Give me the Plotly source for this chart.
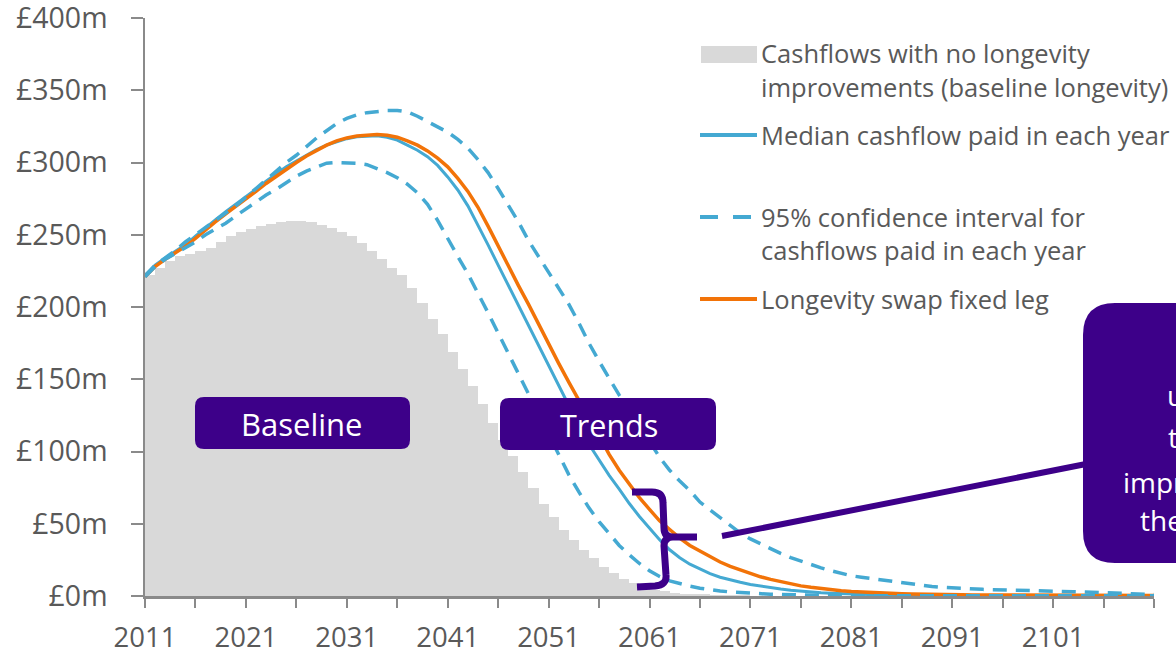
import plotly.graph_objects as go

# ---------------- data (values in £m) ----------------
bar_years = list(range(2011, 2071))
baseline = [222, 227, 232, 235, 237, 239, 241, 245, 249, 252,
            254, 256, 257.5, 258.5, 259.5, 259.5, 258.5, 257, 255, 252,
            249, 244, 239, 233, 227, 222, 213, 203, 192, 181,
            169, 157, 145, 133, 120, 108, 97, 86, 75, 64,
            55, 46, 39, 32, 26, 20, 16, 12, 9, 6.5,
            4.5, 3.2, 2.2, 1.5, 1.0, 0.7, 0.4, 0.25, 0.15, 0.1]

years = list(range(2011, 2112))
median = [222, 229, 234, 238.5, 243, 249, 255, 260.5, 266, 271,
          276, 281.5, 287, 292, 297, 301, 305, 309, 312, 314.5,
          316.5, 317.8, 318.3, 318.5, 317.5, 315.5, 312, 308.5, 304, 298,
          290, 281, 270, 257, 243, 229, 215, 201, 187, 173,
          160, 146, 132, 118, 105, 94, 83.5, 74, 64, 55,
          47, 39, 32, 26.5, 22, 18.5, 15.5, 13, 11, 9.5,
          8, 6.8, 5.7, 4.8, 4, 3.3, 2.8, 2.3, 1.9, 1.6,
          1.3, 1.1, 0.9, 0.7, 0.6, 0.5, 0.45, 0.4, 0.35, 0.3,
          0.28, 0.26, 0.24, 0.22, 0.2, 0.18, 0.16, 0.15, 0.14, 0.13,
          0.12, 0.11, 0.1, 0.1, 0.1, 0.1, 0.1, 0.1, 0.1, 0.1, 0.1]
fixed_leg = [221, 228, 233, 237.5, 242, 247.5, 253.5, 259, 264.5, 269.5,
             274.5, 280, 285.5, 290.5, 295.5, 300, 304.5, 308.5, 312, 315,
             317, 318.3, 319, 319.3, 318.8, 317.5, 315, 312, 308, 303,
             297, 289, 280, 269, 256, 242, 228, 215, 202, 188,
             174, 161, 148, 135, 123, 111, 98, 87, 77, 68,
             60, 52, 46, 40, 35, 31, 27, 23.5, 20.5, 18,
             15.5, 13.3, 11.5, 9.8, 8.3, 7, 6, 5, 4.2, 3.6,
             3.1, 2.7, 2.3, 2, 1.7, 1.5, 1.3, 1.1, 1.0, 0.9,
             0.85, 0.8, 0.75, 0.7, 0.65, 0.6, 0.6, 0.55, 0.55, 0.5,
             0.5, 0.5, 0.45, 0.45, 0.4, 0.4, 0.4, 0.35, 0.35, 0.3, 0.3]
upper_ci = [221, 229, 234, 239, 245, 250, 255, 260, 264.5, 270,
            276, 282, 288, 294, 300, 305, 311, 317, 322, 327,
            330.5, 333, 334.5, 335.5, 336, 336, 335, 332, 328.5, 325,
            321, 316, 310, 302, 293, 282, 271, 259, 246, 235,
            225, 213.5, 202, 189, 175, 162.5, 151, 139, 129, 118,
            107, 96, 87, 79.5, 73, 65, 59.5, 54, 48.5, 43.6,
            39.5, 36, 32.5, 29.5, 26.5, 24, 21.5, 19.5, 17.5, 15.5,
            14, 13, 12, 11, 10, 9, 8.2, 7.4, 6.6, 6,
            5.5, 5.1, 4.8, 4.6, 4.4, 4.3, 4.2, 4, 3.8, 3.6,
            3.4, 3.2, 3.0, 2.8, 2.5, 2.2, 1.9, 1.6, 1.4, 1.2, 1.0]
lower_ci = [221, 228, 233, 237, 241, 245, 250, 254, 258, 263,
            268, 273, 277.5, 281.5, 286, 290.5, 294, 297, 299.5, 300,
            300, 299.5, 298.5, 296, 293, 289.5, 285, 279, 271, 260,
            247, 235, 223, 210, 196, 182, 168, 154, 140, 126,
            112, 98, 84, 72, 61, 51.5, 43, 35, 28.5, 22.5,
            17.5, 13.5, 10.5, 8.5, 6.8, 5.4, 4.3, 3.5, 2.8, 2.3,
            1.9, 1.5, 1.2, 1.0, 0.8, 0.6, 0.5, 0.4, 0.3, 0.3,
            0.2, 0.2, 0.2, 0.15, 0.15, 0.1, 0.1, 0.1, 0.1, 0.1,
            0.1, 0.1, 0.1, 0.1, 0.1, 0.1, 0.1, 0.1, 0.1, 0.1,
            0.1, 0.1, 0.1, 0.1, 0.1, 0.1, 0.1, 0.1, 0.1, 0.1, 0.1]

x_tick_vals = list(range(2011, 2112, 5))
x_tick_text = [str(v) if (v - 2011) % 10 == 0 and v <= 2101 else "" for v in x_tick_vals]
y_tick_vals = list(range(0, 401, 50))
y_tick_text = ["£%dm" % v for v in y_tick_vals]

legend_labels = ["Cashflows with no longevity", "improvements (baseline longevity)",
                 "Median cashflow paid in each year",
                 "95% confidence interval for", "cashflows paid in each year",
                 "Longevity swap fixed leg"]
box_text_lines = ["uncertainty in", "the trend of", "improvements is", "the risk premium"]

# ---------------- style ----------------
GREY = "#D9D9D9"
BLUE = "#44A9D2"
ORANGE = "#F27308"
PURPLE = "#3D0089"
TEXT = "#595959"
AXIS = "#8A8A8A"
FONT = "Open Sans"

W, H = 1176, 649
L, R, T, B = 145, 22, 18, 53
PW, PH = W - L - R, H - T - B


def pxx(x):
    return (x - L) / PW


def pxy(y):
    return (H - B - y) / PH


def P(x, y):
    return "%.5f,%.5f" % (pxx(x), pxy(y))


def rrect(x0, y0, x1, y1, r):
    return ("M %s L %s Q %s %s L %s Q %s %s L %s Q %s %s L %s Q %s %s Z" % (
        P(x0 + r, y0), P(x1 - r, y0), P(x1, y0), P(x1, y0 + r),
        P(x1, y1 - r), P(x1, y1), P(x1 - r, y1),
        P(x0 + r, y1), P(x0, y1), P(x0, y1 - r),
        P(x0, y0 + r), P(x0, y0), P(x0 + r, y0)))


fig = go.Figure()
fig.add_bar(x=bar_years, y=baseline, offset=0, width=1,
            marker=dict(color=GREY, line=dict(width=0)), showlegend=False)
fig.add_scatter(x=years, y=median, mode="lines", line=dict(color=BLUE, width=3), showlegend=False)
fig.add_scatter(x=years, y=fixed_leg, mode="lines", line=dict(color=ORANGE, width=3.5), showlegend=False)
fig.add_scatter(x=years, y=upper_ci, mode="lines",
                line=dict(color=BLUE, width=3.5, dash="14px,9px"), showlegend=False)
fig.add_scatter(x=years, y=lower_ci, mode="lines",
                line=dict(color=BLUE, width=3.5, dash="14px,9px"), showlegend=False)

shapes = []
# label boxes
shapes.append(dict(type="path", xref="paper", yref="paper", path=rrect(195, 397, 410, 449, 9),
                   fillcolor=PURPLE, line=dict(width=0)))
shapes.append(dict(type="path", xref="paper", yref="paper", path=rrect(500, 398, 716, 450, 9),
                   fillcolor=PURPLE, line=dict(width=0)))
shapes.append(dict(type="path", xref="paper", yref="paper", path=rrect(1083, 303, 1500, 563, 32),
                   fillcolor=PURPLE, line=dict(width=0)))
# brace
brace = ("M %s L %s Q %s %s L %s Q %s %s L %s M %s Q %s %s L %s Q %s %s L %s" % (
    P(632, 492), P(652, 492), P(663, 492), P(663, 503), P(664, 528), P(664, 537), P(673, 537),
    P(697, 537), P(673, 537), P(664, 537), P(664, 546), P(666, 575), P(667, 585), P(655, 586),
    P(637, 587)))
shapes.append(dict(type="path", xref="paper", yref="paper", path=brace,
                   line=dict(color=PURPLE, width=7)))
shapes.append(dict(type="line", xref="paper", yref="paper", x0=pxx(722), y0=pxy(536),
                   x1=pxx(1086), y1=pxy(464), line=dict(color=PURPLE, width=6)))
# legend swatches
shapes.append(dict(type="rect", xref="paper", yref="paper", x0=pxx(701), y0=pxy(46),
                   x1=pxx(757), y1=pxy(63), fillcolor=GREY, line=dict(width=0)))
shapes.append(dict(type="line", xref="paper", yref="paper", x0=pxx(700), y0=pxy(135),
                   x1=pxx(757), y1=pxy(135), line=dict(color=BLUE, width=4)))
shapes.append(dict(type="line", xref="paper", yref="paper", x0=pxx(700), y0=pxy(217),
                   x1=pxx(718), y1=pxy(217), line=dict(color=BLUE, width=4)))
shapes.append(dict(type="line", xref="paper", yref="paper", x0=pxx(733), y0=pxy(217),
                   x1=pxx(751), y1=pxy(217), line=dict(color=BLUE, width=4)))
shapes.append(dict(type="line", xref="paper", yref="paper", x0=pxx(700), y0=pxy(299),
                   x1=pxx(757), y1=pxy(299), line=dict(color=ORANGE, width=4)))

annotations = []
for txt, yy in zip(legend_labels, [53, 87, 135, 217, 250, 299]):
    annotations.append(dict(text=txt, xref="paper", yref="paper", x=pxx(759), y=pxy(yy),
                            xanchor="left", yanchor="middle", showarrow=False,
                            font=dict(family=FONT, size=25.5, color=TEXT)))
annotations.append(dict(text="Baseline", xref="paper", yref="paper", x=pxx(302), y=pxy(424),
                        xanchor="center", yanchor="middle", showarrow=False,
                        font=dict(family=FONT, size=31, color="white")))
annotations.append(dict(text="Trends", xref="paper", yref="paper", x=pxx(609), y=pxy(425),
                        xanchor="center", yanchor="middle", showarrow=False,
                        font=dict(family=FONT, size=30.5, color="white")))
for txt, xx, yy in zip(box_text_lines, [1165, 1166, 1121, 1138], [395, 437, 482, 520]):
    annotations.append(dict(text=txt, xref="paper", yref="paper", x=pxx(xx), y=pxy(yy),
                            xanchor="left", yanchor="middle", showarrow=False,
                            font=dict(family=FONT, size=28, color="white")))

fig.update_layout(
    width=W, height=H, margin=dict(l=L, r=R, t=T, b=B, autoexpand=False),
    plot_bgcolor="white", paper_bgcolor="white",
    shapes=shapes, annotations=annotations, bargap=0,
    xaxis=dict(range=[2011, 2111], tickmode="array", tickvals=x_tick_vals, ticktext=x_tick_text,
               ticks="outside", ticklen=9, tickwidth=1.5, tickcolor=AXIS, automargin=False,
               showline=True, linecolor=AXIS, linewidth=3, showgrid=False, zeroline=False,
               tickfont=dict(family=FONT, size=27.5, color=TEXT), ticklabelstandoff=6,
               ticklabeloverflow="allow"),
    yaxis=dict(range=[0, 400], tickmode="array", tickvals=y_tick_vals, ticktext=y_tick_text,
               ticks="outside", ticklen=12, tickwidth=1.5, tickcolor=AXIS, automargin=False,
               showline=True, linecolor=AXIS, linewidth=1.5, showgrid=False, zeroline=False,
               tickfont=dict(family=FONT, size=28.5, color=TEXT), ticklabelstandoff=18,
               ticklabeloverflow="allow"),
)

fig.write_html("out.html", config={"displayModeBar": False},
               post_script="document.body.style.margin='0';document.body.style.overflow='hidden';")
